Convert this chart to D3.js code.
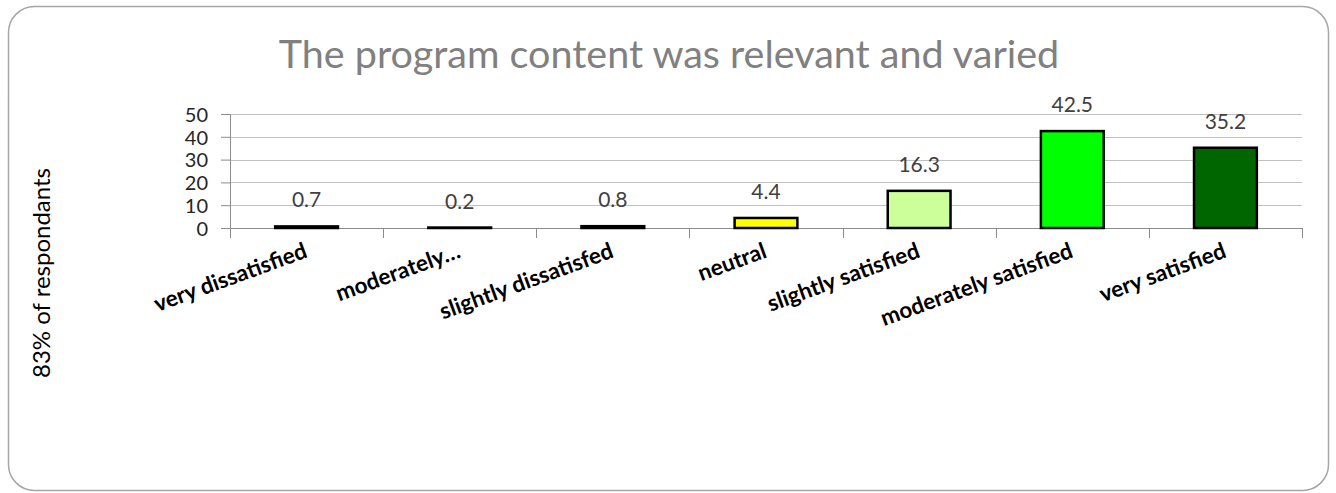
<!DOCTYPE html>
<html>
<head>
<meta charset="utf-8">
<script src="https://cdn.jsdelivr.net/npm/d3@7"></script>
<style>
  body { margin: 0; background: #fff; }
  svg { display: block; font-family: Lato, "Open Sans", sans-serif; }
</style>
</head>
<body>
<svg id="chart"></svg>
<script>
// 数据
const categories = [
  "very dissatisfied",
  "moderately…",
  "slightly dissatisfed",
  "neutral",
  "slightly satisfied",
  "moderately satisfied",
  "very satisfied",
];
const values = [0.7, 0.2, 0.8, 4.4, 16.3, 42.5, 35.2];
const barColors = ["#c00000", "#ff6600", "#ffc000", "#ffff00", "#ccff99", "#00ff00", "#006600"];
const yTicks = [0, 10, 20, 30, 40, 50];
const titleText = "The program content was relevant and varied";
const yLabel = "83% of respondants";

const W = 1336, H = 493;
const plot = { left: 230, right: 1302, top: 114, bottom: 228 };

const svg = d3.select("#chart").attr("width", W).attr("height", H);

// 外框
svg.append("rect")
  .attr("x", 8.5).attr("y", 6.5)
  .attr("width", 1320).attr("height", 484)
  .attr("rx", 26).attr("ry", 26)
  .attr("fill", "#fff")
  .attr("stroke", "#a6a6a6")
  .attr("stroke-width", 1.5);

// 标题
svg.append("text")
  .attr("x", 669).attr("y", 68)
  .attr("text-anchor", "middle")
  .attr("fill", "#808080")
  .attr("font-size", 39.5)
  .text(titleText);

const x = d3.scaleBand()
  .domain(categories)
  .range([plot.left, plot.right])
  .paddingInner(0.59)
  .paddingOuter(0.295);

const y = d3.scaleLinear().domain([0, 50]).range([plot.bottom, plot.top]);

// 网格线
svg.append("g")
  .selectAll("line")
  .data(yTicks.filter((d) => d > 0))
  .join("line")
  .attr("x1", plot.left).attr("x2", plot.right)
  .attr("y1", (d) => Math.round(y(d)) + 0.5)
  .attr("y2", (d) => Math.round(y(d)) + 0.5)
  .attr("stroke", "#c0c0c0")
  .attr("stroke-width", 1.2);

// Y轴
const yAxis = svg.append("g")
  .attr("transform", `translate(${plot.left},0)`)
  .call(d3.axisLeft(y).tickValues(yTicks).tickSize(9).tickPadding(13));
yAxis.select(".domain").attr("stroke", "#8c8c8c");
yAxis.selectAll(".tick line").attr("stroke", "#8c8c8c");
yAxis.selectAll(".tick text")
  .attr("fill", "#262626")
  .attr("font-size", 20)
  .attr("font-family", "Lato, sans-serif")
  .attr("dy", "0.36em");

// X轴 (刻度在类别边界)
const step = x.step();
const edges = d3.range(categories.length + 1).map((i) => plot.left + i * step);
svg.append("line")
  .attr("x1", plot.left).attr("x2", plot.right)
  .attr("y1", plot.bottom + 0.5).attr("y2", plot.bottom + 0.5)
  .attr("stroke", "#8c8c8c");
svg.append("g")
  .selectAll("line")
  .data(edges)
  .join("line")
  .attr("x1", (d) => Math.round(d) + 0.5).attr("x2", (d) => Math.round(d) + 0.5)
  .attr("y1", plot.bottom).attr("y2", plot.bottom + 10)
  .attr("stroke", "#8c8c8c");

// 柱子
svg.append("g")
  .selectAll("rect")
  .data(values)
  .join("rect")
  .attr("x", (d, i) => x(categories[i]))
  .attr("width", x.bandwidth())
  .attr("y", (d) => y(d))
  .attr("height", (d) => y(0) - y(d))
  .attr("fill", (d, i) => barColors[i])
  .attr("stroke", "#000")
  .attr("stroke-width", 2.5);

// 数值标签
svg.append("g")
  .selectAll("text")
  .data(values)
  .join("text")
  .attr("x", (d, i) => x(categories[i]) + x.bandwidth() / 2)
  .attr("y", (d) => y(d) - 19)
  .attr("text-anchor", "middle")
  .attr("fill", "#404040")
  .attr("font-size", 21)
  .text((d) => d);

// 类别标签 (旋转)
svg.append("g")
  .selectAll("text")
  .data(categories)
  .join("text")
  .attr("transform", (d) => `translate(${x(d) + x.bandwidth() / 2 + 2},${plot.bottom + 29}) rotate(-20)`)
  .attr("text-anchor", "end")
  .attr("fill", "#000")
  .attr("font-weight", "bold")
  .attr("font-size", 22.5)
  .text((d) => d);

// Y轴标题
svg.append("text")
  .attr("transform", `translate(50,273) rotate(-90)`)
  .attr("text-anchor", "middle")
  .attr("fill", "#000")
  .attr("font-size", 24)
  .text(yLabel);
</script>
</body>
</html>
